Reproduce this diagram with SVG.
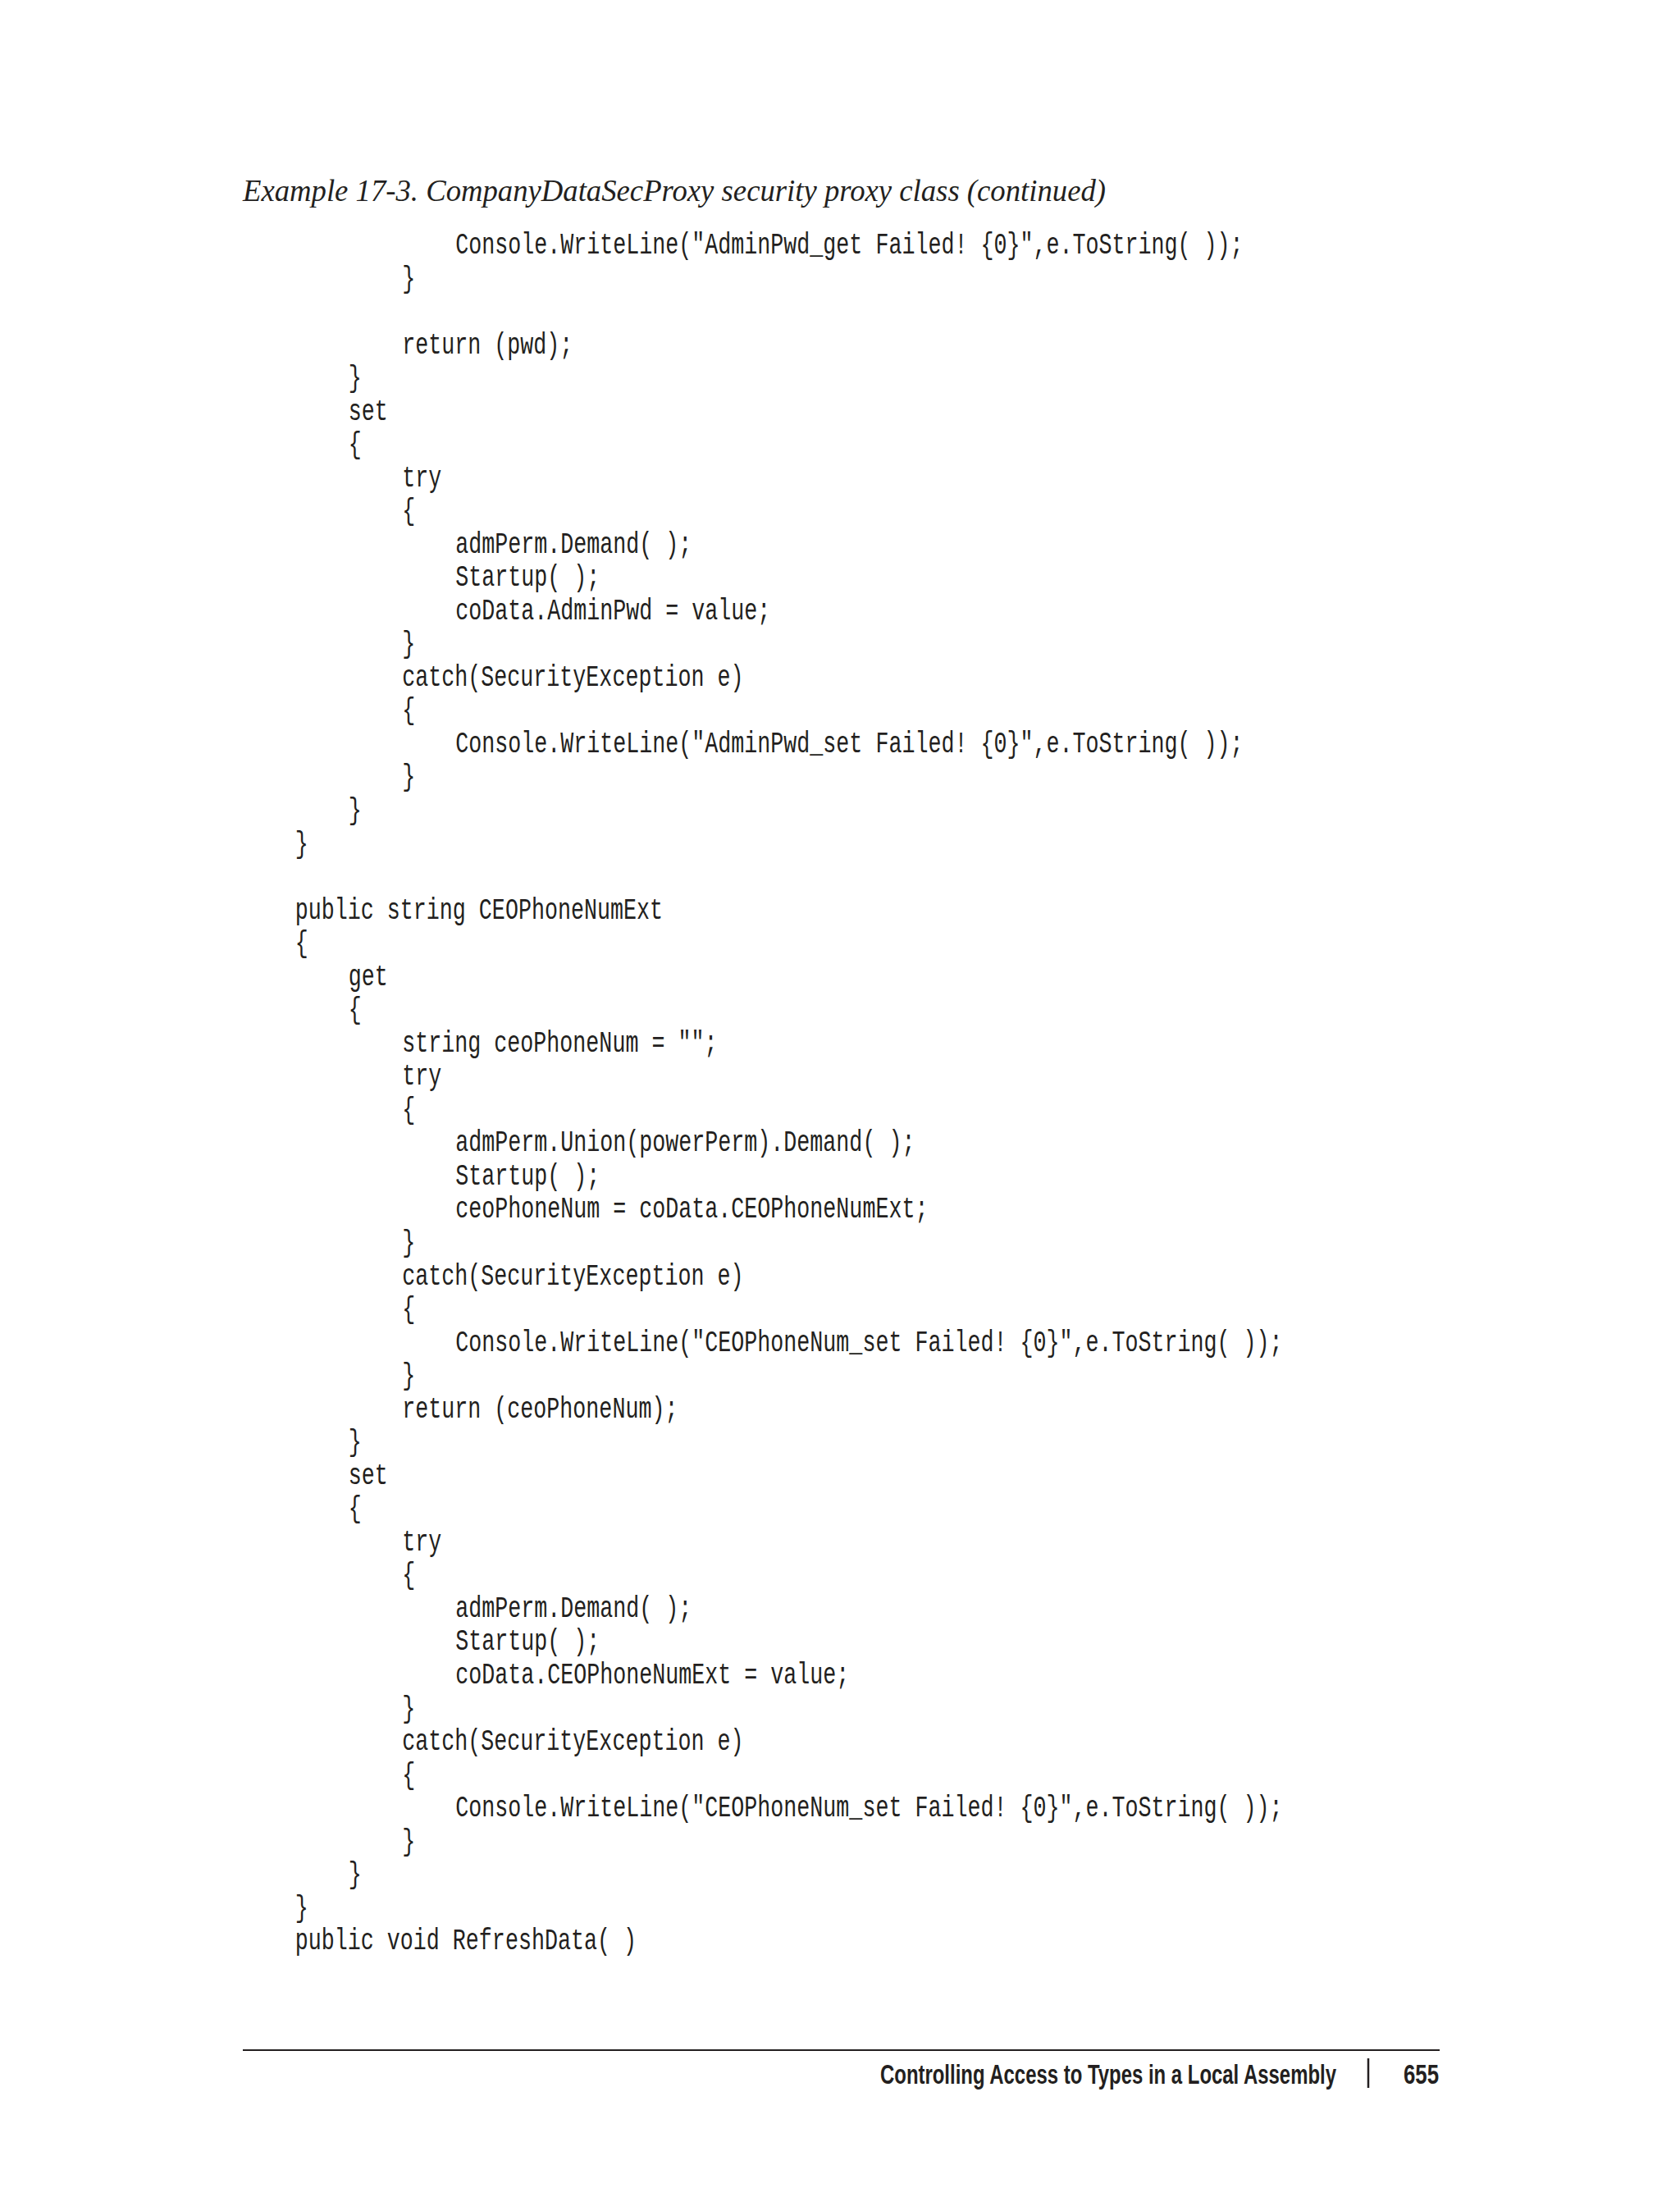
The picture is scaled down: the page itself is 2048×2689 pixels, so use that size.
<svg xmlns="http://www.w3.org/2000/svg" width="2048" height="2689" viewBox="0 0 2048 2689">
<style>
.c{font-family:"Liberation Mono",monospace;font-size:37px;fill:#231f20}
.cap{font-family:"Liberation Serif",serif;font-style:italic;font-size:38px;fill:#231f20}
.ft{font-family:"Liberation Sans",sans-serif;font-weight:bold;font-size:34px;fill:#231f20}
</style>
<rect width="2048" height="2689" fill="#fff"/>
<text class="cap" x="296" y="245" textLength="1052" lengthAdjust="spacingAndGlyphs">Example 17-3. CompanyDataSecProxy security proxy class (continued)</text>
<g id="code" transform="scale(0.721 1)">
<text class="c" x="770" y="309">Console.WriteLine("AdminPwd_get Failed! {0}",e.ToString( ));</text>
<text class="c" x="680" y="350">}</text>
<text class="c" x="680" y="431">return (pwd);</text>
<text class="c" x="589" y="471">}</text>
<text class="c" x="589" y="512">set</text>
<text class="c" x="589" y="552">{</text>
<text class="c" x="680" y="593">try</text>
<text class="c" x="680" y="633">{</text>
<text class="c" x="770" y="674">admPerm.Demand( );</text>
<text class="c" x="770" y="714">Startup( );</text>
<text class="c" x="770" y="755">coData.AdminPwd = value;</text>
<text class="c" x="680" y="795">}</text>
<text class="c" x="680" y="836">catch(SecurityException e)</text>
<text class="c" x="680" y="876">{</text>
<text class="c" x="770" y="917">Console.WriteLine("AdminPwd_set Failed! {0}",e.ToString( ));</text>
<text class="c" x="680" y="957">}</text>
<text class="c" x="589" y="998">}</text>
<text class="c" x="499" y="1039">}</text>
<text class="c" x="499" y="1120">public string CEOPhoneNumExt</text>
<text class="c" x="499" y="1160">{</text>
<text class="c" x="589" y="1201">get</text>
<text class="c" x="589" y="1241">{</text>
<text class="c" x="680" y="1282">string ceoPhoneNum = "";</text>
<text class="c" x="680" y="1322">try</text>
<text class="c" x="680" y="1363">{</text>
<text class="c" x="770" y="1403">admPerm.Union(powerPerm).Demand( );</text>
<text class="c" x="770" y="1444">Startup( );</text>
<text class="c" x="770" y="1484">ceoPhoneNum = coData.CEOPhoneNumExt;</text>
<text class="c" x="680" y="1525">}</text>
<text class="c" x="680" y="1566">catch(SecurityException e)</text>
<text class="c" x="680" y="1606">{</text>
<text class="c" x="770" y="1647">Console.WriteLine("CEOPhoneNum_set Failed! {0}",e.ToString( ));</text>
<text class="c" x="680" y="1687">}</text>
<text class="c" x="680" y="1728">return (ceoPhoneNum);</text>
<text class="c" x="589" y="1768">}</text>
<text class="c" x="589" y="1809">set</text>
<text class="c" x="589" y="1849">{</text>
<text class="c" x="680" y="1890">try</text>
<text class="c" x="680" y="1930">{</text>
<text class="c" x="770" y="1971">admPerm.Demand( );</text>
<text class="c" x="770" y="2011">Startup( );</text>
<text class="c" x="770" y="2052">coData.CEOPhoneNumExt = value;</text>
<text class="c" x="680" y="2093">}</text>
<text class="c" x="680" y="2133">catch(SecurityException e)</text>
<text class="c" x="680" y="2174">{</text>
<text class="c" x="770" y="2214">Console.WriteLine("CEOPhoneNum_set Failed! {0}",e.ToString( ));</text>
<text class="c" x="680" y="2255">}</text>
<text class="c" x="589" y="2295">}</text>
<text class="c" x="499" y="2336">}</text>
<text class="c" x="499" y="2376">public void RefreshData( )</text>
</g>
<g id="footer">
<line x1="296" y1="2499" x2="1755" y2="2499" stroke="#231f20" stroke-width="2"/>
<text class="ft" x="1073" y="2540" textLength="556" lengthAdjust="spacingAndGlyphs">Controlling Access to Types in a Local Assembly</text>
<line x1="1668" y1="2509" x2="1668" y2="2545" stroke="#231f20" stroke-width="2.5"/>
<text class="ft" x="1711" y="2540" textLength="43" lengthAdjust="spacingAndGlyphs">655</text>
</g>
</svg>
